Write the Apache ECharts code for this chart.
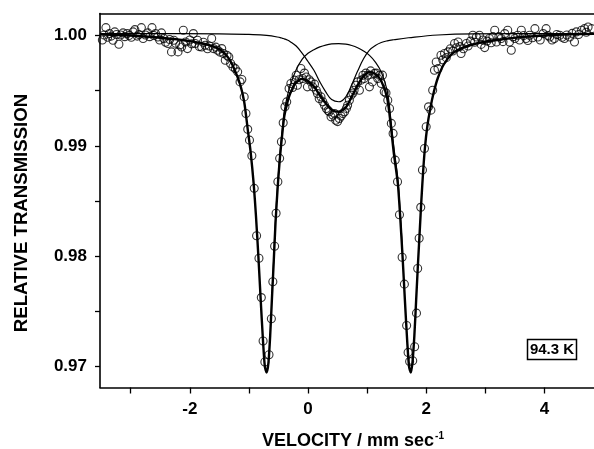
<!DOCTYPE html>
<html>
<head>
<meta charset="utf-8">
<script src="https://cdn.jsdelivr.net/npm/echarts@6/dist/echarts.min.js"></script>
<style>
html,body{margin:0;padding:0;background:#ffffff;}
#chart{width:594px;height:449px;}
</style>
</head>
<body>
<div id="chart"></div>
<script>
// Measured spectrum: velocity (mm/s) and relative transmission
const velocity = [
-3.48,-3.45,-3.42,-3.39,-3.36,-3.33,-3.30,-3.27,-3.24,-3.20,
-3.17,-3.13,-3.10,-3.06,-3.03,-2.99,-2.96,-2.93,-2.89,-2.86,
-2.82,-2.79,-2.75,-2.71,-2.68,-2.64,-2.61,-2.58,-2.54,-2.51,
-2.48,-2.44,-2.41,-2.37,-2.34,-2.31,-2.27,-2.24,-2.20,-2.17,
-2.14,-2.11,-2.07,-2.04,-2.00,-1.97,-1.94,-1.91,-1.87,-1.84,
-1.80,-1.77,-1.74,-1.70,-1.67,-1.63,-1.60,-1.56,-1.53,-1.49,
-1.46,-1.43,-1.40,-1.37,-1.34,-1.31,-1.27,-1.23,-1.19,-1.15,
-1.12,-1.08,-1.05,-1.02,-0.99,-0.95,-0.91,-0.87,-0.83,-0.79,
-0.76,-0.73,-0.66,-0.62,-0.595,-0.565,-0.54,-0.51,-0.48,-0.45,
-0.42,-0.39,-0.36,-0.32,-0.29,-0.26,-0.23,-0.20,-0.18,-0.15,
-0.12,-0.09,-0.06,-0.03,-0.01,0.02,0.05,0.08,0.11,0.14,
0.16,0.19,0.22,0.25,0.28,0.31,0.34,0.36,0.39,0.42,
0.45,0.47,0.50,0.53,0.56,0.59,0.62,0.65,0.67,0.70,
0.73,0.76,0.78,0.81,0.84,0.87,0.90,0.93,0.95,0.98,
1.01,1.04,1.06,1.09,1.12,1.15,1.18,1.21,1.24,1.26,
1.29,1.32,1.35,1.38,1.41,1.44,1.476,1.515,1.548,1.593,
1.631,1.669,1.694,1.72,1.772,1.805,1.836,1.856,1.881,1.908,
1.937,1.971,2.00,2.04,2.08,2.11,2.14,2.17,2.20,2.25,
2.28,2.31,2.34,2.37,2.41,2.45,2.48,2.51,2.54,2.57,
2.59,2.63,2.68,2.71,2.75,2.79,2.82,2.85,2.90,2.93,
2.96,2.99,3.03,3.07,3.10,3.13,3.16,3.19,3.23,3.27,
3.30,3.33,3.38,3.41,3.44,3.47,3.50,3.55,3.58,3.61,
3.65,3.69,3.72,3.75,3.80,3.84,3.89,3.93,3.98,4.03,
4.06,4.09,4.13,4.17,4.21,4.26,4.30,4.34,4.38,4.43,
4.47,4.51,4.54,4.58,4.63,4.68,4.71,4.74,4.80
];
const transmission = [
0.99960,1.00005,1.00072,0.99985,1.00018,0.99995,0.99957,1.00033,1.00010,0.99921,
1.00005,1.00024,0.99990,1.00018,1.00000,0.99985,1.00033,1.00054,0.99995,1.00010,
1.00072,0.99973,1.00005,1.00024,0.99990,1.00072,1.00000,1.00018,0.99987,0.99960,
1.00024,0.99973,0.99940,0.99928,0.99965,0.99852,0.99957,0.99930,0.99852,0.99915,
0.99897,1.00048,0.99942,0.99882,0.99960,0.99925,1.00018,0.99928,0.99957,0.99900,
0.99897,0.99940,0.99912,0.99880,0.99905,0.99973,0.99882,0.99895,0.99867,0.99850,
0.99882,0.99837,0.99776,0.99820,0.99806,0.99747,0.99716,0.99700,0.99671,0.99580,
0.99602,0.99444,0.99294,0.99150,0.99052,0.98910,0.98615,0.98186,0.97982,0.97625,
0.97231,0.97041,0.97107,0.97433,0.97768,0.98090,0.98389,0.98675,0.98887,0.99037,
0.99209,0.99354,0.99399,0.99520,0.99566,0.99530,0.99596,0.99640,0.99550,0.99600,
0.99701,0.99611,0.99660,0.99625,0.99535,0.99600,0.99580,0.99535,0.99560,0.99505,
0.99475,0.99430,0.99444,0.99400,0.99369,0.99339,0.99320,0.99309,0.99263,0.99280,
0.99294,0.99233,0.99220,0.99249,0.99270,0.99294,0.99309,0.99340,0.99369,0.99414,
0.99460,0.99480,0.99505,0.99550,0.99580,0.99505,0.99596,0.99640,0.99611,0.99660,
0.99641,0.99535,0.99680,0.99580,0.99656,0.99660,0.99611,0.99640,0.99566,0.99641,
0.99490,0.99480,0.99414,0.99339,0.99204,0.99113,0.98871,0.98675,0.98376,0.97990,
0.97747,0.97372,0.97128,0.97046,0.97052,0.97179,0.97484,0.97888,0.98163,0.98443,
0.98781,0.98977,0.99173,0.99354,0.99324,0.99505,0.99686,0.99761,0.99700,0.99822,
0.99780,0.99837,0.99800,0.99852,0.99880,0.99860,0.99928,0.99890,0.99942,0.99900,
0.99837,0.99880,0.99928,0.99905,0.99950,1.00003,0.99940,0.99987,1.00003,0.99920,
0.99960,0.99891,0.99950,0.99973,0.99935,0.99990,1.00048,0.99942,0.99990,0.99973,
0.99945,1.00018,1.00048,0.99942,0.99867,0.99990,0.99973,1.00003,0.99960,1.00048,
1.00000,0.99973,0.99955,1.00003,0.99980,1.00063,0.99987,0.99960,1.00018,1.00063,
1.00000,0.99987,0.99960,0.99973,1.00010,1.00003,0.99985,0.99973,1.00005,0.99987,
1.00020,0.99942,1.00033,1.00010,1.00048,1.00063,1.00030,1.00078,1.00063
];

// Total fitted curve (thick line)
const fitVelocity = [
-3.52,-3.0,-2.5,-2.1,-1.8,-1.6,-1.47,-1.35,-1.25,-1.15,
-1.08,-1.02,-0.97,-0.92,-0.88,-0.84,-0.80,-0.76,-0.73,-0.70,
-0.67,-0.64,-0.61,-0.58,-0.55,-0.51,-0.47,-0.43,-0.40,-0.35,
-0.30,-0.20,-0.10,0.00,0.10,0.20,0.30,0.40,0.52,0.64,
0.74,0.84,0.94,1.04,1.14,1.24,1.34,1.40,1.45,1.52,
1.56,1.60,1.64,1.68,1.71,1.74,1.77,1.80,1.83,1.86,
1.89,1.92,1.95,1.98,2.02,2.07,2.13,2.20,2.30,2.45,
2.62,2.90,3.20,3.70,4.30,4.84
];
const fitTotal = [
1.00012,1.00000,0.99980,0.99958,0.99930,0.99900,0.99865,0.99800,0.99700,0.99560,
0.99400,0.99150,0.98940,0.98660,0.98360,0.98000,0.97600,0.97220,0.97000,0.96945,
0.97030,0.97280,0.97620,0.97950,0.98300,0.98650,0.98924,0.99137,0.99272,0.99392,
0.99477,0.99577,0.99607,0.99587,0.99539,0.99459,0.99386,0.99326,0.99309,0.99349,
0.99447,0.99550,0.99632,0.99670,0.99652,0.99589,0.99434,0.99190,0.98944,0.98660,
0.98360,0.98000,0.97600,0.97220,0.97000,0.96945,0.97050,0.97280,0.97600,0.97920,
0.98220,0.98520,0.98780,0.98990,0.99180,0.99340,0.99490,0.99620,0.99740,0.99840,
0.99890,0.99935,0.99960,0.99990,1.00010,1.00015
];

// Component A: main quadrupole doublet (thin line, visible between the lines)
const siteAVelocity = [
-0.61,-0.58,-0.55,-0.51,-0.47,-0.43,-0.40,-0.35,-0.30,-0.20,
-0.10,0.00,0.10,0.20,0.30,0.40,0.52,0.64,0.74,0.84,
0.94,1.04,1.14,1.24,1.34,1.40,1.45,1.52,1.56,1.60
];
const siteA = [
0.97650,0.97980,0.98330,0.98680,0.98960,0.99180,0.99320,0.99450,0.99550,0.99690,
0.99785,0.99840,0.99872,0.99897,0.99914,0.99924,0.99927,0.99922,0.99910,0.99890,
0.99860,0.99820,0.99760,0.99670,0.99500,0.99250,0.99000,0.98700,0.98400,0.98040
];

// Component B: central minor site (thin line)
const siteBVelocity = [
-3.52,-1.5,-1.0,-0.7,-0.47,-0.43,-0.40,-0.35,-0.30,-0.20,
-0.10,0.00,0.10,0.20,0.30,0.40,0.52,0.64,0.74,0.84,
0.94,1.04,1.14,1.24,1.34,1.45,1.7,2.2,2.8,4.84
];
const siteB = [
1.00018,1.00016,1.00010,1.00002,0.99982,0.99975,0.99970,0.99960,0.99945,0.99905,
0.99840,0.99765,0.99685,0.99580,0.99490,0.99420,0.99400,0.99445,0.99555,0.99678,
0.99790,0.99868,0.99910,0.99937,0.99952,0.99962,0.99980,1.00005,1.00015,1.00018
];

const xTickLabels = ['-2', '0', '2', '4'];
const yTickLabels = ['0.97', '0.98', '0.99', '1.00'];
const xTitle = 'VELOCITY / mm sec';
const xTitleSup = '-1';
const yTitle = 'RELATIVE TRANSMISSION';
const tempLabel = '94.3 K';

const FONT = '"Liberation Sans", Arial, Helvetica, sans-serif';
const pair = (xs, ys) => xs.map((x, i) => [x, ys[i]]);

const chart = echarts.init(document.getElementById('chart'), null, {renderer: 'canvas'});
chart.setOption({
  animation: false,
  backgroundColor: '#ffffff',
  grid: {left: 100, right: 0, top: 13.5, bottom: 61.5, containLabel: false, outerBoundsMode: 'none'},
  xAxis: [{
    type: 'value', position: 'bottom',
    min: -3.52, max: 4.84, splitNumber: 8,
    axisLine: {show: true, onZero: false, lineStyle: {color: '#000', width: 1.6}},
    axisTick: {show: true, inside: false, length: 6, lineStyle: {color: '#000', width: 1.3}},
    splitLine: {show: false},
    axisLabel: {
      margin: 13, color: '#000', fontFamily: FONT, fontWeight: 'bold', fontSize: 17,
      showMinLabel: false, showMaxLabel: false,
      formatter: v => xTickLabels.includes(String(v)) ? String(v) : ''
    },
    name: '{t|' + xTitle + '}{s|' + xTitleSup + '}',
    nameLocation: 'middle', nameGap: 44,
    nameTextStyle: {
      padding: [0, 0, 0, 12],
      rich: {
        t: {fontFamily: FONT, fontWeight: 'bold', fontSize: 18, color: '#000'},
        s: {fontFamily: FONT, fontWeight: 'bold', fontSize: 10, color: '#000', padding: [0, 0, 10, 1]}
      }
    }
  }, {
    type: 'value', position: 'top',
    min: -3.52, max: 4.84,
    axisLine: {show: true, onZero: false, lineStyle: {color: '#000', width: 1.6}},
    axisTick: {show: false}, axisLabel: {show: false}, splitLine: {show: false}
  }],
  yAxis: {
    type: 'value',
    min: 0.9681, max: 1.0020, splitNumber: 7,
    axisLine: {show: true, onZero: false, lineStyle: {color: '#000', width: 1.6}},
    axisTick: {show: true, inside: false, length: 5, lineStyle: {color: '#000', width: 1.3}},
    splitLine: {show: false},
    axisLabel: {
      margin: 13, color: '#000', fontFamily: FONT, fontWeight: 'bold', fontSize: 17,
      showMinLabel: false, showMaxLabel: false,
      formatter: v => {
        const s = v.toFixed(2);
        return (yTickLabels.includes(s) && Math.abs(v - parseFloat(s)) < 1e-7) ? s : '';
      }
    },
    name: yTitle, nameLocation: 'middle', nameRotate: 90, nameGap: 69,
    nameTextStyle: {fontFamily: FONT, fontWeight: 'bold', fontSize: 18.6, color: '#000', padding: [0, 25, 0, 0]}
  },
  series: [{
    type: 'scatter', name: 'data', xAxisIndex: 0,
    data: pair(velocity, transmission),
    symbol: 'circle', symbolSize: 8,
    itemStyle: {color: 'rgba(255,255,255,0)', borderColor: '#000', borderWidth: 1.1},
    z: 2
  }, {
    type: 'line', name: 'site B', xAxisIndex: 0,
    data: pair(siteBVelocity, siteB),
    showSymbol: false, smooth: 0.4,
    lineStyle: {color: '#000', width: 1.2}, z: 3
  }, {
    type: 'line', name: 'site A', xAxisIndex: 0,
    data: pair(siteAVelocity, siteA),
    showSymbol: false, smooth: 0.4,
    lineStyle: {color: '#000', width: 1.2}, z: 3
  }, {
    type: 'line', name: 'fit', xAxisIndex: 0,
    data: pair(fitVelocity, fitTotal),
    showSymbol: false, smooth: 0.25,
    lineStyle: {color: '#000', width: 2.4}, z: 4
  }],
  graphic: [{
    type: 'rect', z: 10,
    shape: {x: 527.5, y: 339.5, width: 49, height: 20},
    style: {fill: '#ffffff', stroke: '#000', lineWidth: 1.5}
  }, {
    type: 'text', z: 11, x: 552, y: 350,
    style: {text: tempLabel, font: 'bold 15px ' + FONT, fill: '#000', textAlign: 'center', textVerticalAlign: 'middle'}
  }]
});
</script>
</body>
</html>
